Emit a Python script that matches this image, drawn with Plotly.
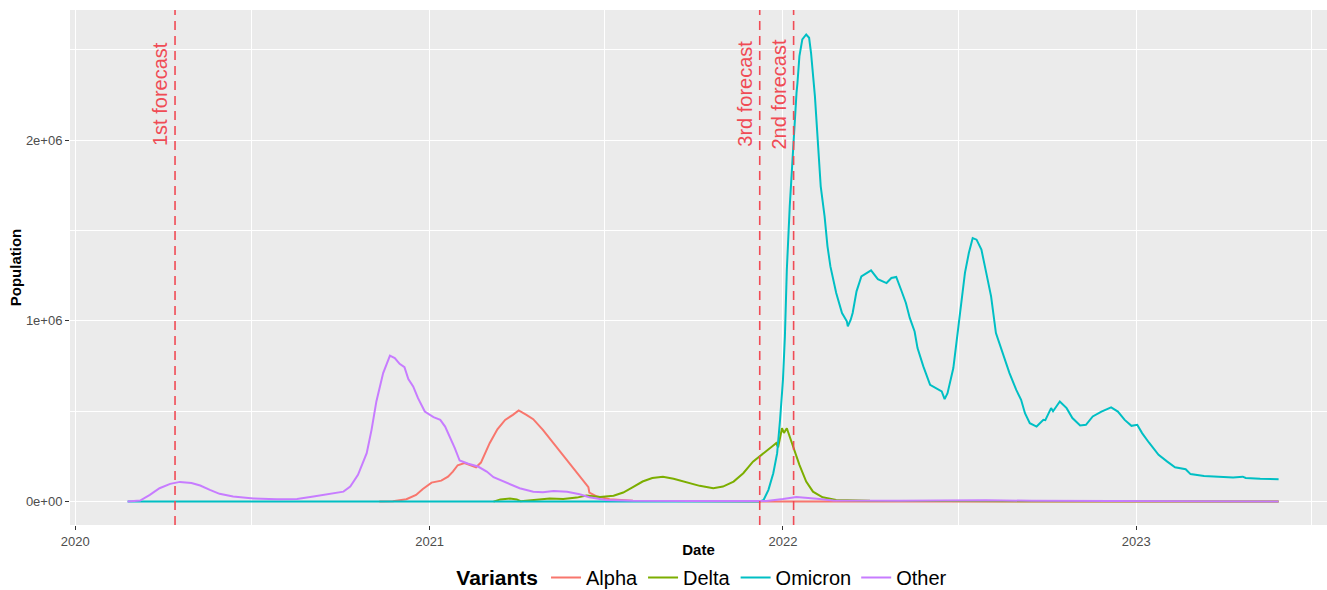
import plotly.graph_objects as go

# ---- series data (daily counts read at irregular dates) ----
alpha_dates = ["2020-11-10", "2020-11-24", "2020-12-08", "2020-12-18", "2020-12-25",
               "2021-01-03", "2021-01-13", "2021-01-20", "2021-01-25", "2021-01-30", "2021-02-06",
               "2021-02-12", "2021-02-18", "2021-02-23", "2021-03-04", "2021-03-12", "2021-03-20",
               "2021-03-28", "2021-04-03", "2021-04-11", "2021-04-18", "2021-04-28", "2021-05-09",
               "2021-05-19", "2021-05-29", "2021-06-09", "2021-06-14", "2021-06-15", "2021-06-23",
               "2021-07-06", "2021-07-30", "2021-12-01", "2023-05-28"]
alpha_vals = [0, 0.002, 0.013, 0.037, 0.070,
              0.105, 0.116, 0.138, 0.166, 0.201, 0.213,
              0.203, 0.190, 0.216, 0.323, 0.400, 0.452,
              0.480, 0.504, 0.480, 0.456, 0.397, 0.323,
              0.253, 0.185, 0.111, 0.080, 0.050, 0.028,
              0.013, 0.005, 0.001, 0]

delta_dates = ["2021-03-08", "2021-03-15", "2021-03-25", "2021-04-01", "2021-04-05",
               "2021-04-18", "2021-05-05", "2021-05-19", "2021-06-02", "2021-06-12", "2021-06-26",
               "2021-07-10", "2021-07-20", "2021-07-30", "2021-08-09", "2021-08-19", "2021-08-30",
               "2021-09-10", "2021-09-24", "2021-10-07", "2021-10-21", "2021-10-31", "2021-11-11",
               "2021-11-21", "2021-12-01", "2021-12-08", "2021-12-15", "2021-12-22", "2021-12-25",
               "2021-12-27", "2021-12-31", "2022-01-02", "2022-01-05", "2022-01-08", "2022-01-13",
               "2022-01-18", "2022-01-25", "2022-02-01", "2022-02-11", "2022-02-25", "2022-04-01",
               "2022-07-01", "2022-09-01", "2023-05-28"]
delta_vals = [0, 0.012, 0.017, 0.012, 0.002,
              0.007, 0.017, 0.014, 0.022, 0.033, 0.026,
              0.032, 0.050, 0.080, 0.111, 0.130, 0.138,
              0.126, 0.105, 0.087, 0.074, 0.083, 0.111,
              0.157, 0.221, 0.249, 0.282, 0.310, 0.323,
              0.300, 0.406, 0.380, 0.406, 0.360, 0.286,
              0.203, 0.111, 0.055, 0.024, 0.009, 0.004,
              0.003, 0.001, 0]

omicron_dates = ["2020-02-24", "2021-12-08", "2021-12-12", "2021-12-17", "2021-12-22", "2021-12-26",
                 "2021-12-29", "2022-01-01", "2022-01-03", "2022-01-05", "2022-01-08", "2022-01-11",
                 "2022-01-13", "2022-01-15", "2022-01-16", "2022-01-18", "2022-01-21", "2022-01-25",
                 "2022-01-28", "2022-01-30", "2022-02-03", "2022-02-06", "2022-02-09", "2022-02-13",
                 "2022-02-16", "2022-02-19", "2022-02-25", "2022-03-03", "2022-03-08", "2022-03-09",
                 "2022-03-12", "2022-03-14", "2022-03-18", "2022-03-23", "2022-03-28", "2022-04-02",
                 "2022-04-09", "2022-04-18", "2022-04-23", "2022-04-28", "2022-05-03", "2022-05-08",
                 "2022-05-12", "2022-05-17", "2022-05-20", "2022-05-26", "2022-06-02", "2022-06-09",
                 "2022-06-14", "2022-06-17", "2022-06-20", "2022-06-26", "2022-07-01", "2022-07-05",
                 "2022-07-08", "2022-07-12", "2022-07-16", "2022-07-20", "2022-07-25", "2022-07-30",
                 "2022-08-04", "2022-08-09", "2022-08-16", "2022-08-23", "2022-08-30", "2022-09-04",
                 "2022-09-08", "2022-09-13", "2022-09-20", "2022-09-27", "2022-09-29", "2022-10-05",
                 "2022-10-07", "2022-10-14", "2022-10-21", "2022-10-27", "2022-11-04", "2022-11-10",
                 "2022-11-17", "2022-11-26", "2022-12-06", "2022-12-13", "2022-12-20", "2022-12-27",
                 "2023-01-02", "2023-01-07", "2023-01-14", "2023-01-24", "2023-02-02", "2023-02-10",
                 "2023-02-21", "2023-02-26", "2023-03-12", "2023-03-29", "2023-04-11", "2023-04-21",
                 "2023-04-24", "2023-05-09", "2023-05-28"]
omicron_vals = [0, 0, 0.009, 0.065, 0.157, 0.268,
                0.452, 0.674, 0.914, 1.283, 1.633, 1.929,
                2.132, 2.261, 2.317, 2.464, 2.557, 2.584,
                2.566, 2.483, 2.243, 1.966, 1.744, 1.578,
                1.412, 1.301, 1.154, 1.043, 0.997, 0.969,
                1.006, 1.043, 1.163, 1.246, 1.265, 1.279,
                1.231, 1.209, 1.237, 1.243, 1.172, 1.099,
                1.016, 0.941, 0.849, 0.748, 0.646, 0.622,
                0.609, 0.567, 0.600, 0.739, 0.951, 1.135,
                1.265, 1.375, 1.458, 1.449, 1.394, 1.265,
                1.135, 0.932, 0.822, 0.711, 0.618, 0.563,
                0.489, 0.434, 0.415, 0.452, 0.450, 0.517,
                0.500, 0.554, 0.517, 0.462, 0.421, 0.425,
                0.471, 0.498, 0.521, 0.498, 0.452, 0.419,
                0.425, 0.379, 0.327, 0.259, 0.221, 0.190,
                0.179, 0.152, 0.142, 0.135, 0.133, 0.138,
                0.131, 0.126, 0.124]

other_dates = ["2020-02-24", "2020-03-08", "2020-03-18", "2020-03-28", "2020-04-08", "2020-04-18",
               "2020-04-30", "2020-05-09", "2020-05-19", "2020-05-29", "2020-06-12", "2020-07-03",
               "2020-07-27", "2020-08-17", "2020-09-03", "2020-09-20", "2020-10-04", "2020-10-11",
               "2020-10-19", "2020-10-28", "2020-11-02", "2020-11-07", "2020-11-14", "2020-11-21",
               "2020-11-26", "2020-12-01", "2020-12-06", "2020-12-10", "2020-12-15", "2020-12-20",
               "2020-12-27", "2021-01-05", "2021-01-12", "2021-01-17", "2021-01-22", "2021-01-27",
               "2021-02-01", "2021-02-10", "2021-02-20", "2021-03-01", "2021-03-08", "2021-03-22",
               "2021-04-04", "2021-04-18", "2021-04-28", "2021-05-09", "2021-05-23", "2021-06-05",
               "2021-06-15", "2021-07-02", "2021-07-30", "2021-10-01", "2021-12-15", "2022-01-01",
               "2022-01-15", "2022-02-05", "2022-02-22", "2022-05-01", "2022-07-30", "2022-09-15",
               "2023-01-01", "2023-05-28"]
other_vals = [0, 0.006, 0.037, 0.074, 0.098, 0.109,
              0.103, 0.089, 0.065, 0.043, 0.028, 0.017,
              0.013, 0.015, 0.028, 0.043, 0.055, 0.083,
              0.148, 0.268, 0.397, 0.554, 0.711, 0.808,
              0.794, 0.762, 0.744, 0.678, 0.637, 0.572,
              0.498, 0.467, 0.452, 0.415, 0.360, 0.296,
              0.227, 0.209, 0.194, 0.166, 0.135, 0.102,
              0.074, 0.055, 0.052, 0.059, 0.054, 0.041,
              0.024, 0.009, 0.004, 0.003, 0.003, 0.014,
              0.026, 0.016, 0.006, 0.004, 0.008, 0.004,
              0.002, 0.001]

# values above are in millions
series = [
    ("Alpha", alpha_dates, alpha_vals, "#F8766D"),
    ("Delta", delta_dates, delta_vals, "#7CAE00"),
    ("Omicron", omicron_dates, omicron_vals, "#00BFC4"),
    ("Other", other_dates, other_vals, "#C77CFF"),
]

forecast_dates = ["2020-04-13", "2022-01-12", "2021-12-08"]
forecast_labels = ["1st forecast", "2nd forecast", "3rd forecast"]
forecast_label_y = 2.255e6

y_tick_vals = [0, 1e6, 2e6]
y_tick_text = ["0e+00", "1e+06", "2e+06"]

FONT = "Liberation Sans, Arial, Helvetica, sans-serif"
FORECAST_COLOR = "#F04B55"

fig = go.Figure()
for name, dates, vals, color in series:
    fig.add_trace(go.Scatter(
        x=dates, y=[v * 1e6 for v in vals], mode="lines", name=name,
        line=dict(color=color, width=2),
    ))

for d, label in zip(forecast_dates, forecast_labels):
    fig.add_shape(type="line", xref="x", yref="paper", x0=d, x1=d, y0=0, y1=1,
                  line=dict(color=FORECAST_COLOR, width=1.6, dash="9px,6px"))
    fig.add_annotation(x=d, y=forecast_label_y, xref="x", yref="y", text=label,
                       textangle=-90, showarrow=False, xanchor="center", yanchor="middle",
                       xshift=-15, font=dict(family=FONT, size=20, color=FORECAST_COLOR))

fig.update_layout(
    width=1327, height=590,
    margin=dict(l=70, r=0, t=10, b=65, autoexpand=False),
    paper_bgcolor="white", plot_bgcolor="#EBEBEB",
    font=dict(family=FONT),
    showlegend=True,
    legend=dict(
        orientation="h", xref="container", x=0.530, xanchor="center",
        yref="container", y=0.021, yanchor="middle",
        title=dict(text="<b>Variants</b>", side="left", font=dict(size=21, color="black")),
        font=dict(size=20, color="black"), itemwidth=30,
    ),
)

fig.update_xaxes(
    range=["2019-12-26 12:00", "2023-07-17"], type="date",
    tick0="2020-01-01", dtick="M12", tickformat="%Y",
    showgrid=True, gridcolor="white", gridwidth=1.1,
    minor=dict(dtick="M6", tick0="2020-01-01", showgrid=True, gridcolor="white", gridwidth=0.5),
    ticks="outside", ticklen=4, tickcolor="#333333", tickwidth=1,
    tickfont=dict(size=13, color="#4D4D4D"),
    title=dict(text="<b>Date</b>", font=dict(size=15, color="black"), standoff=4),
    zeroline=False, showline=False, automargin=False,
)
fig.update_yaxes(
    range=[-0.1295e6, 2.7195e6],
    tickvals=y_tick_vals, ticktext=y_tick_text,
    showgrid=True, gridcolor="white", gridwidth=1.1,
    minor=dict(tickvals=[0.5e6, 1.5e6, 2.5e6], showgrid=True, gridcolor="white", gridwidth=0.5),
    ticks="outside", ticklen=4, tickcolor="#333333", tickwidth=1,
    tickfont=dict(size=13, color="#4D4D4D"),
    title=dict(text="<b>Population</b>", font=dict(size=15, color="black"), standoff=0),
    zeroline=False, showline=False, automargin=False,
)

fig.write_html("out.html")
